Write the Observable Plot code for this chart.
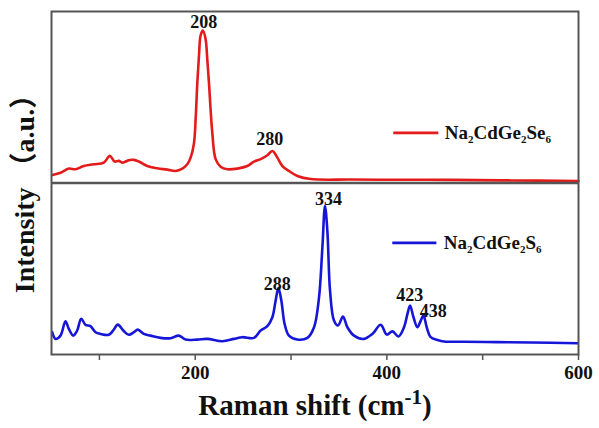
<!DOCTYPE html>
<html>
<head>
<meta charset="utf-8">
<script src="https://cdn.jsdelivr.net/npm/d3@7"></script>
<script src="https://cdn.jsdelivr.net/npm/@observablehq/plot@0.6"></script>
<style>
  html, body { margin: 0; padding: 0; background: #fff; }
  #chart { width: 599px; height: 428px; }
</style>
</head>
<body>
<div id="chart"></div>
<script>
// Na2CdGe2Se6 Raman spectrum (top panel), relative intensity 0-100
const seShift = [51.0, 59.4, 68.1, 75.1, 83.7, 94.2, 104.6, 110.9, 115.8, 120.3, 123.8, 127.3, 130.7, 136.0, 141.2, 149.9, 160.4, 170.8, 179.5, 186.5, 191.7, 195.2, 198.6, 200.5, 202.2, 204.0, 205.6, 208.0, 210.8, 212.6, 214.3, 217.8, 221.3, 226.5, 233.5, 243.9, 254.4, 261.3, 268.3, 275.3, 280.5, 285.7, 291.0, 297.8, 306.6, 320.5, 362.3, 420.0, 466.7, 530.0, 600.0];
const seInt   = [4.7, 6.0, 8.4, 8.0, 9.9, 10.9, 11.9, 15.8, 12.5, 12.9, 11.9, 12.5, 13.3, 13.5, 12.5, 9.9, 8.6, 7.8, 7.0, 8.4, 10.9, 14.8, 22.8, 38.0, 58.7, 75.0, 86.0, 88.9, 84.0, 72.0, 58.7, 29.4, 13.9, 9.5, 8.0, 8.4, 9.9, 12.5, 13.9, 16.2, 18.7, 14.8, 9.9, 7.0, 4.1, 2.3, 2.0, 1.9, 1.8, 1.5, 1.2];

// Na2CdGe2S6 Raman spectrum (bottom panel), relative intensity 0-100
const sShift = [50.7, 54.2, 59.4, 64.6, 68.1, 72.7, 76.8, 81.0, 85.5, 90.7, 96.0, 101.2, 109.8, 114.4, 119.2, 124.9, 130.7, 136.0, 140.1, 146.4, 153.4, 163.8, 174.3, 182.9, 190.0, 202.2, 212.6, 228.3, 240.4, 249.2, 261.3, 268.3, 275.3, 280.5, 283.9, 286.8, 289.9, 293.3, 297.8, 306.6, 317.1, 324.0, 329.2, 332.7, 335.4, 337.9, 340.7, 344.8, 349.0, 354.2, 358.8, 365.7, 376.2, 384.9, 393.6, 399.9, 405.8, 412.1, 417.9, 421.5, 424.2, 427.8, 431.9, 435.4, 438.2, 441.6, 445.8, 452.8, 459.7, 480.6, 515.5, 550.3, 599.0];
const sInt   = [13.0, 9.1, 11.0, 19.4, 14.9, 11.0, 14.0, 20.8, 17.3, 16.5, 13.0, 12.0, 11.5, 14.0, 17.4, 14.0, 11.5, 13.0, 14.5, 12.0, 11.0, 9.7, 9.5, 11.0, 8.7, 8.7, 9.1, 7.7, 9.1, 10.1, 9.7, 14.0, 16.5, 21.7, 31.4, 38.8, 31.4, 17.8, 11.0, 8.7, 9.7, 15.9, 33.3, 62.4, 86.6, 72.1, 37.2, 19.8, 16.9, 22.1, 15.9, 11.0, 9.1, 12.0, 17.3, 11.6, 13.5, 10.5, 15.9, 23.7, 28.5, 21.7, 15.9, 19.8, 22.7, 15.9, 10.1, 8.5, 7.6, 7.4, 7.2, 7.0, 6.6];

// Peak annotations
const peakLabels = ["208", "280", "288", "334", "423", "438"];
const peakX      = [209, 277.7, 285.7, 339, 423.9, 448.4];
const peakY      = [93.7, 25.7, 41.1, 90.7, 34.3, 25.0];
const peakPanel  = ["Se", "Se", "S", "S", "S", "S"];

// Legend
const seriesNames  = ["Na2CdGe2Se6", "Na2CdGe2S6"];
const seriesPanel  = ["Se", "S"];
const seriesColors = ["#e31b1b", "#1616d8"];
const legendX1 = [407.2, 406.2];
const legendX2 = [454.2, 452.2];
const legendTextX = [460.4, 459.4];
const legendY  = [29.2, 65.1];

const xTicks = [100, 200, 300, 400, 500, 600];
const xTickLabels = [200, 400, 600];

const panelOffset = {Se: 100, S: 0};
const se = seShift.map((x, i) => ({x, y: panelOffset.Se + seInt[i]}));
const s  = sShift.map((x, i) => ({x, y: panelOffset.S + sInt[i]}));
const peaks = peakLabels.map((t, i) => ({t, x: peakX[i], y: panelOffset[peakPanel[i]] + peakY[i]}));
const legend = seriesNames.map((n, i) => ({n, c: seriesColors[i], x1: legendX1[i], x2: legendX2[i], tx: legendTextX[i], y: panelOffset[seriesPanel[i]] + legendY[i]}));

const serif = "'Liberation Serif', 'Times New Roman', 'Noto Sans CJK SC', serif";
const xLabelText = "Raman shift (cm-1)";
const yLabelText = "Intensity\u00a0（a.u.）";

const plot = Plot.plot({
  width: 599,
  height: 428,
  marginLeft: 51,
  marginRight: 21,
  marginTop: 11,
  marginBottom: 74,
  style: {fontFamily: serif, background: "#fff"},
  x: {domain: [50, 600]},
  y: {domain: [0, 200], axis: null},
  marks: [
    Plot.line(se, {x: "x", y: "y", stroke: seriesColors[0], strokeWidth: 2.6, curve: "catmull-rom"}),
    Plot.line(s, {x: "x", y: "y", stroke: seriesColors[1], strokeWidth: 2.6, curve: "catmull-rom"}),
    Plot.ruleY([100], {stroke: "#555", strokeWidth: 2.5}),
    Plot.frame({stroke: "#555", strokeWidth: 2}),
    Plot.axisX({ticks: xTicks, tickSize: 6, text: null, stroke: "#555", strokeWidth: 1.5, label: null}),
    Plot.text(xTickLabels, {x: d => d, frameAnchor: "bottom", dy: 24, text: d => String(d), fontSize: 19, fontWeight: "bold", fill: "#111", fontFamily: serif}),
    Plot.text(peaks, {x: "x", y: "y", text: "t", fontSize: 18, fontWeight: "bold", fill: "#111", fontFamily: serif}),
    Plot.ruleY(legend, {x1: "x1", x2: "x2", y: "y", stroke: "c", strokeWidth: 2.6}),
    Plot.text(legend, {x: "tx", y: "y", text: "n", textAnchor: "start", fontSize: 19, fontWeight: "bold", fill: "#111", fontFamily: serif}),
    Plot.text([0], {frameAnchor: "bottom", dy: 60, textAnchor: "middle", text: () => xLabelText, fontSize: 29, fontWeight: "bold", fill: "#111", fontFamily: serif}),
    Plot.text([0], {frameAnchor: "left", dx: -26, dy: 4, rotate: -90, textAnchor: "middle", text: () => yLabelText, fontSize: 28, fontWeight: "bold", fill: "#111", fontFamily: serif})
  ]
});

document.getElementById("chart").appendChild(plot);

const svg = d3.select(plot);

// Chemical formula subscripts in the legend
svg.selectAll("text").filter(function () { return seriesNames.includes(d3.select(this).text()); }).each(function () {
  const t = d3.select(this);
  const str = t.text();
  t.text(null);
  const parts = str.match(/[A-Za-z]+|\d+/g);
  let shifted = false;
  parts.forEach(p => {
    if (/\d/.test(p)) {
      t.append("tspan").attr("dy", 4).attr("font-size", 11).text(p);
      shifted = true;
    } else {
      const ts = t.append("tspan").text(p);
      if (shifted) { ts.attr("dy", -4); shifted = false; }
    }
  });
});

// Superscript in the x-axis label
svg.selectAll("text").filter(function () { return d3.select(this).text() === xLabelText; }).each(function () {
  const t = d3.select(this);
  t.text(null);
  t.append("tspan").text("Raman shift (cm");
  t.append("tspan").attr("dy", -11).attr("font-size", 21).text("-1");
  t.append("tspan").attr("dy", 11).text(")");
});
</script>
</body>
</html>
